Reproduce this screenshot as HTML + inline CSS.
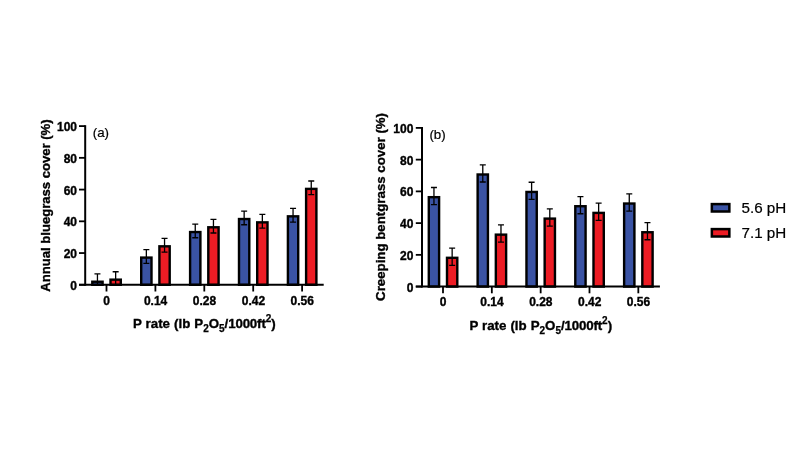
<!DOCTYPE html>
<html><head><meta charset="utf-8"><title>Chart</title>
<style>
html,body{margin:0;padding:0;background:#fff;}
svg{display:block;}
text{font-family:"Liberation Sans",Arial,Helvetica,sans-serif;fill:#000;}
.b{font-weight:bold;stroke:#000;stroke-width:0.35px;}
.r{font-weight:normal;stroke:#000;stroke-width:0.2px;}
.t12{font-size:12px;}
.t13{font-size:13.3px;}
.t15{font-size:15.2px;}
</style></head><body>
<svg width="800" height="450" viewBox="0 0 800 450">
<rect width="800" height="450" fill="#fff"/>
<clipPath id="c1"><rect x="0" y="0" width="800" height="284.80"/></clipPath>
<rect x="92.30" y="281.72" width="10.3" height="3.08" fill="#3a53a4" stroke="#000" stroke-width="2.4"/>
<path d="M97.45 273.82V287.42M94.45 273.82h6M94.45 287.42h6" stroke="#000" stroke-width="1.3" fill="none" clip-path="url(#c1)"/>
<rect x="110.50" y="279.65" width="10.3" height="5.15" fill="#ed1c24" stroke="#000" stroke-width="2.4"/>
<path d="M115.65 271.75V285.35M112.65 271.75h6M112.65 285.35h6" stroke="#000" stroke-width="1.3" fill="none" clip-path="url(#c1)"/>
<rect x="141.20" y="257.59" width="10.3" height="27.21" fill="#3a53a4" stroke="#000" stroke-width="2.4"/>
<path d="M146.35 249.69V263.29M143.35 249.69h6M143.35 263.29h6" stroke="#000" stroke-width="1.3" fill="none" clip-path="url(#c1)"/>
<rect x="159.40" y="246.32" width="10.3" height="38.48" fill="#ed1c24" stroke="#000" stroke-width="2.4"/>
<path d="M164.55 238.42V252.03M161.55 238.42h6M161.55 252.03h6" stroke="#000" stroke-width="1.3" fill="none" clip-path="url(#c1)"/>
<rect x="190.10" y="232.04" width="10.3" height="52.76" fill="#3a53a4" stroke="#000" stroke-width="2.4"/>
<path d="M195.25 224.14V237.74M192.25 224.14h6M192.25 237.74h6" stroke="#000" stroke-width="1.3" fill="none" clip-path="url(#c1)"/>
<rect x="208.30" y="227.28" width="10.3" height="57.52" fill="#ed1c24" stroke="#000" stroke-width="2.4"/>
<path d="M213.45 219.38V232.98M210.45 219.38h6M210.45 232.98h6" stroke="#000" stroke-width="1.3" fill="none" clip-path="url(#c1)"/>
<rect x="239.00" y="219.03" width="10.3" height="65.77" fill="#3a53a4" stroke="#000" stroke-width="2.4"/>
<path d="M244.15 211.13V224.73M241.15 211.13h6M241.15 224.73h6" stroke="#000" stroke-width="1.3" fill="none" clip-path="url(#c1)"/>
<rect x="257.20" y="222.36" width="10.3" height="62.44" fill="#ed1c24" stroke="#000" stroke-width="2.4"/>
<path d="M262.35 214.46V228.06M259.35 214.46h6M259.35 228.06h6" stroke="#000" stroke-width="1.3" fill="none" clip-path="url(#c1)"/>
<rect x="287.90" y="216.33" width="10.3" height="68.47" fill="#3a53a4" stroke="#000" stroke-width="2.4"/>
<path d="M293.05 208.43V222.03M290.05 208.43h6M290.05 222.03h6" stroke="#000" stroke-width="1.3" fill="none" clip-path="url(#c1)"/>
<rect x="306.10" y="188.88" width="10.3" height="95.92" fill="#ed1c24" stroke="#000" stroke-width="2.4"/>
<path d="M311.25 180.98V194.58M308.25 180.98h6M308.25 194.58h6" stroke="#000" stroke-width="1.3" fill="none" clip-path="url(#c1)"/>
<path d="M85.20 125.20V285.80" stroke="#000" stroke-width="2"/>
<path d="M79.00 284.80H323.70" stroke="#000" stroke-width="2"/>
<path d="M79.00 284.80H85.20" stroke="#000" stroke-width="1.8"/>
<text x="77.00" y="289.90" text-anchor="end" class="b t12">0</text>
<path d="M79.00 253.06H85.20" stroke="#000" stroke-width="1.8"/>
<text x="77.00" y="258.16" text-anchor="end" class="b t12">20</text>
<path d="M79.00 221.32H85.20" stroke="#000" stroke-width="1.8"/>
<text x="77.00" y="226.42" text-anchor="end" class="b t12">40</text>
<path d="M79.00 189.58H85.20" stroke="#000" stroke-width="1.8"/>
<text x="77.00" y="194.68" text-anchor="end" class="b t12">60</text>
<path d="M79.00 157.84H85.20" stroke="#000" stroke-width="1.8"/>
<text x="77.00" y="162.94" text-anchor="end" class="b t12">80</text>
<path d="M79.00 126.10H85.20" stroke="#000" stroke-width="1.8"/>
<text x="77.00" y="131.20" text-anchor="end" class="b t12">100</text>
<path d="M106.50 284.80V291.50" stroke="#000" stroke-width="1.8"/>
<text x="106.70" y="304.90" text-anchor="middle" class="b t12">0</text>
<path d="M155.40 284.80V291.50" stroke="#000" stroke-width="1.8"/>
<text x="155.60" y="304.90" text-anchor="middle" class="b t12">0.14</text>
<path d="M204.30 284.80V291.50" stroke="#000" stroke-width="1.8"/>
<text x="204.50" y="304.90" text-anchor="middle" class="b t12">0.28</text>
<path d="M253.20 284.80V291.50" stroke="#000" stroke-width="1.8"/>
<text x="253.40" y="304.90" text-anchor="middle" class="b t12">0.42</text>
<path d="M302.10 284.80V291.50" stroke="#000" stroke-width="1.8"/>
<text x="302.30" y="304.90" text-anchor="middle" class="b t12">0.56</text>
<text x="133.00" y="328.40" class="b" font-size="13.3" word-spacing="0.3">P rate (lb P<tspan dy="3.5" font-size="10" stroke="#000" stroke-width="0.25">2</tspan><tspan dy="-3.5">O</tspan><tspan dy="3.5" font-size="10" stroke="#000" stroke-width="0.25">5</tspan><tspan dy="-3.5" letter-spacing="-0.15">/1000ft</tspan><tspan dy="-6.1" letter-spacing="0" font-size="10" stroke="#000" stroke-width="0.25">2</tspan><tspan dy="6.1">)</tspan></text>
<text transform="translate(49.80 205.55) rotate(-90)" text-anchor="middle" class="b t13" textLength="172.2" lengthAdjust="spacingAndGlyphs">Annual bluegrass cover (%)</text>
<text x="92.8" y="136.9" class="r t13">(a)</text>
<clipPath id="c2"><rect x="0" y="0" width="800" height="286.60"/></clipPath>
<rect x="428.80" y="197.18" width="10.3" height="89.42" fill="#3a53a4" stroke="#000" stroke-width="2.4"/>
<path d="M433.95 187.48V204.68M430.95 187.48h6M430.95 204.68h6" stroke="#000" stroke-width="1.3" fill="none" clip-path="url(#c2)"/>
<rect x="447.00" y="257.81" width="10.3" height="28.79" fill="#ed1c24" stroke="#000" stroke-width="2.4"/>
<path d="M452.15 248.11V265.31M449.15 248.11h6M449.15 265.31h6" stroke="#000" stroke-width="1.3" fill="none" clip-path="url(#c2)"/>
<rect x="477.63" y="174.49" width="10.3" height="112.11" fill="#3a53a4" stroke="#000" stroke-width="2.4"/>
<path d="M482.78 164.79V181.99M479.78 164.79h6M479.78 181.99h6" stroke="#000" stroke-width="1.3" fill="none" clip-path="url(#c2)"/>
<rect x="495.83" y="234.64" width="10.3" height="51.96" fill="#ed1c24" stroke="#000" stroke-width="2.4"/>
<path d="M500.98 224.94V242.14M497.98 224.94h6M497.98 242.14h6" stroke="#000" stroke-width="1.3" fill="none" clip-path="url(#c2)"/>
<rect x="526.46" y="191.95" width="10.3" height="94.65" fill="#3a53a4" stroke="#000" stroke-width="2.4"/>
<path d="M531.61 182.25V199.45M528.61 182.25h6M528.61 199.45h6" stroke="#000" stroke-width="1.3" fill="none" clip-path="url(#c2)"/>
<rect x="544.66" y="218.61" width="10.3" height="67.99" fill="#ed1c24" stroke="#000" stroke-width="2.4"/>
<path d="M549.81 208.91V226.11M546.81 208.91h6M546.81 226.11h6" stroke="#000" stroke-width="1.3" fill="none" clip-path="url(#c2)"/>
<rect x="575.29" y="206.23" width="10.3" height="80.37" fill="#3a53a4" stroke="#000" stroke-width="2.4"/>
<path d="M580.44 196.53V213.73M577.44 196.53h6M577.44 213.73h6" stroke="#000" stroke-width="1.3" fill="none" clip-path="url(#c2)"/>
<rect x="593.49" y="212.89" width="10.3" height="73.71" fill="#ed1c24" stroke="#000" stroke-width="2.4"/>
<path d="M598.64 203.19V220.39M595.64 203.19h6M595.64 220.39h6" stroke="#000" stroke-width="1.3" fill="none" clip-path="url(#c2)"/>
<rect x="624.12" y="203.53" width="10.3" height="83.07" fill="#3a53a4" stroke="#000" stroke-width="2.4"/>
<path d="M629.27 193.83V211.03M626.27 193.83h6M626.27 211.03h6" stroke="#000" stroke-width="1.3" fill="none" clip-path="url(#c2)"/>
<rect x="642.32" y="232.25" width="10.3" height="54.35" fill="#ed1c24" stroke="#000" stroke-width="2.4"/>
<path d="M647.47 222.56V239.75M644.47 222.56h6M644.47 239.75h6" stroke="#000" stroke-width="1.3" fill="none" clip-path="url(#c2)"/>
<path d="M422.00 127.00V287.60" stroke="#000" stroke-width="2"/>
<path d="M415.80 286.60H659.92" stroke="#000" stroke-width="2"/>
<path d="M415.80 286.60H422.00" stroke="#000" stroke-width="1.8"/>
<text x="413.40" y="291.70" text-anchor="end" class="b t12">0</text>
<path d="M415.80 254.86H422.00" stroke="#000" stroke-width="1.8"/>
<text x="413.40" y="259.96" text-anchor="end" class="b t12">20</text>
<path d="M415.80 223.12H422.00" stroke="#000" stroke-width="1.8"/>
<text x="413.40" y="228.22" text-anchor="end" class="b t12">40</text>
<path d="M415.80 191.38H422.00" stroke="#000" stroke-width="1.8"/>
<text x="413.40" y="196.48" text-anchor="end" class="b t12">60</text>
<path d="M415.80 159.64H422.00" stroke="#000" stroke-width="1.8"/>
<text x="413.40" y="164.74" text-anchor="end" class="b t12">80</text>
<path d="M415.80 127.90H422.00" stroke="#000" stroke-width="1.8"/>
<text x="413.40" y="133.00" text-anchor="end" class="b t12">100</text>
<path d="M443.00 286.60V293.30" stroke="#000" stroke-width="1.8"/>
<text x="443.20" y="306.10" text-anchor="middle" class="b t12">0</text>
<path d="M491.83 286.60V293.30" stroke="#000" stroke-width="1.8"/>
<text x="492.03" y="306.10" text-anchor="middle" class="b t12">0.14</text>
<path d="M540.66 286.60V293.30" stroke="#000" stroke-width="1.8"/>
<text x="540.86" y="306.10" text-anchor="middle" class="b t12">0.28</text>
<path d="M589.49 286.60V293.30" stroke="#000" stroke-width="1.8"/>
<text x="589.69" y="306.10" text-anchor="middle" class="b t12">0.42</text>
<path d="M638.32 286.60V293.30" stroke="#000" stroke-width="1.8"/>
<text x="638.52" y="306.10" text-anchor="middle" class="b t12">0.56</text>
<text x="469.40" y="330.20" class="b" font-size="13.3" word-spacing="0.3">P rate (lb P<tspan dy="3.5" font-size="10" stroke="#000" stroke-width="0.25">2</tspan><tspan dy="-3.5">O</tspan><tspan dy="3.5" font-size="10" stroke="#000" stroke-width="0.25">5</tspan><tspan dy="-3.5" letter-spacing="-0.15">/1000ft</tspan><tspan dy="-6.1" letter-spacing="0" font-size="10" stroke="#000" stroke-width="0.25">2</tspan><tspan dy="6.1">)</tspan></text>
<text transform="translate(384.60 206.95) rotate(-90)" text-anchor="middle" class="b t13" textLength="188" lengthAdjust="spacingAndGlyphs">Creeping bentgrass cover (%)</text>
<text x="429.4" y="139.0" class="r t13">(b)</text>
<rect x="711.85" y="204.1" width="17.5" height="7.4" fill="#3a53a4" stroke="#000" stroke-width="2.5"/>
<rect x="711.85" y="229.1" width="17.5" height="7.4" fill="#ed1c24" stroke="#000" stroke-width="2.5"/>
<text x="741.5" y="212.5" class="r t15">5.6 pH</text>
<text x="741.5" y="237.5" class="r t15">7.1 pH</text>
</svg>
</body></html>
